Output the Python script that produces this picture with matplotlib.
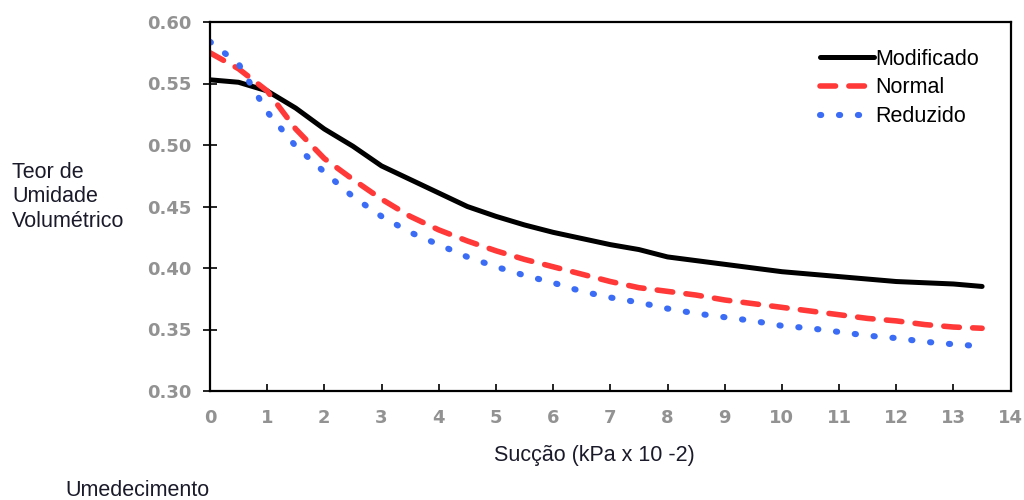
import matplotlib
matplotlib.use('Agg')
import matplotlib.pyplot as plt
import numpy as np

plt.rcParams['font.family'] = ['Liberation Sans', 'DejaVu Sans']

# ── data ──────────────────────────────────────────────────────────────────
x_mod = [0, 0.5, 1, 1.5, 2, 2.5, 3, 3.5, 4, 4.5, 5, 5.5, 6, 6.5, 7, 7.5,
         8, 8.5, 9, 9.5, 10, 10.5, 11, 11.5, 12, 12.5, 13, 13.5]
y_mod = [0.553, 0.551, 0.544, 0.530, 0.513, 0.499, 0.483, 0.472, 0.461, 0.450,
         0.442, 0.435, 0.429, 0.424, 0.419, 0.415, 0.409, 0.406, 0.403, 0.400,
         0.397, 0.395, 0.393, 0.391, 0.389, 0.388, 0.387, 0.385]

x_nor = x_mod
y_nor = [0.575, 0.562, 0.544, 0.513, 0.489, 0.472, 0.456, 0.442, 0.431, 0.422,
         0.414, 0.407, 0.401, 0.395, 0.389, 0.384, 0.381, 0.378, 0.374, 0.371,
         0.368, 0.365, 0.362, 0.359, 0.357, 0.354, 0.352, 0.351]

x_red = [0, 0.5, 1, 1.5, 2, 2.5, 3, 3.5, 4, 4.5, 5, 5.5, 6, 6.5, 7, 7.5,
         8, 8.5, 9, 9.5, 10, 10.5, 11, 11.5, 12, 12.5, 13, 13.3]
y_red = [0.584, 0.566, 0.527, 0.499, 0.478, 0.458, 0.442, 0.429, 0.419, 0.409,
         0.401, 0.394, 0.388, 0.381, 0.376, 0.372, 0.367, 0.363, 0.360, 0.357,
         0.353, 0.351, 0.348, 0.345, 0.343, 0.340, 0.338, 0.337]

xticks = list(range(0, 15))
yticks = [0.30, 0.35, 0.40, 0.45, 0.50, 0.55, 0.60]

RED = '#FF3838'
BLUE = '#3B6CF5'
GREY = '#929292'
TXT = '#1A1A2A'

fig = plt.figure(figsize=(10.24, 5.0), dpi=100, facecolor='white')
ax = fig.add_axes([0.205, 0.218, 0.782, 0.738])

ax.plot(x_mod, y_mod, color='black', lw=3.6, solid_capstyle='round',
        label='Modificado')
ax.plot(x_nor, y_nor, color=RED, lw=4.0, dashes=(2.8, 2.4),
        dash_capstyle='round', label='Normal')
ax.plot(x_red, y_red, color=BLUE, lw=4.4, dashes=(0.2, 2.9),
        dash_capstyle='round', label='Reduzido')

ax.set_xlim(0, 14)
ax.set_ylim(0.30, 0.60)
ax.set_xticks(xticks)
ax.set_xticklabels([str(t) for t in xticks])
ax.set_yticks(yticks)
ax.set_yticklabels([f'{t:.2f}' for t in yticks])
for s in ax.spines.values():
    s.set_linewidth(1.6)
ax.tick_params(axis='x', direction='in', length=5, width=1.2, pad=13)
ax.tick_params(axis='y', direction='inout', length=10, width=1.2, pad=8)
for lbl in ax.get_xticklabels() + ax.get_yticklabels():
    lbl.set_family('DejaVu Sans')
    lbl.set_fontweight('bold')
    lbl.set_fontsize(13)
    lbl.set_color(GREY)

fig.text(0.580, 0.090, 'Sucção (kPa x 10 -2)', fontsize=15.5, color=TXT,
         ha='center', va='center')
fig.text(0.012, 0.606, 'Teor de\nUmidade\nVolumétrico', fontsize=15.5,
         color=TXT, va='center', ha='left', linespacing=1.2)
fig.text(0.064, 0.020, 'Umedecimento', fontsize=15.5, color=TXT,
         va='center', ha='left')

leg = ax.legend(loc='upper left', bbox_to_anchor=(0.762, 0.928), frameon=False,
                fontsize=15.5, handlelength=2.5, handletextpad=0.05,
                labelspacing=0.36, borderaxespad=0, borderpad=0)

fig.savefig('out.png', dpi=100, facecolor='white')
plt.close(fig)
